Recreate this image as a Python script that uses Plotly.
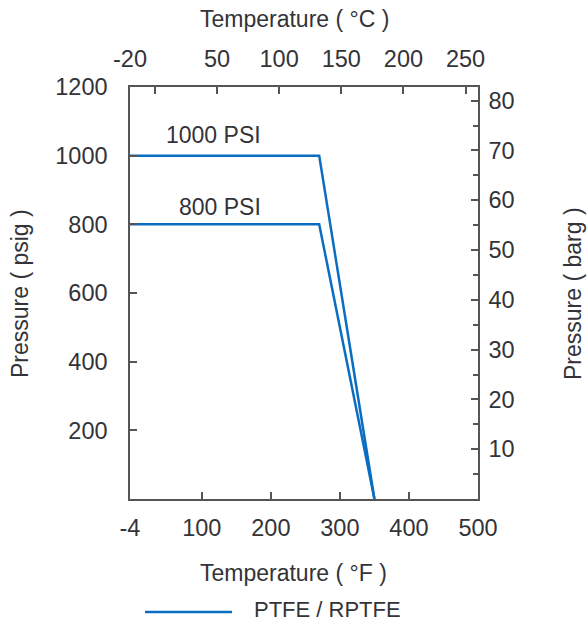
import plotly.graph_objects as go

# Data
temp_f_1000 = [-4, 270, 350]
psig_1000 = [1000, 1000, 0]
temp_f_800 = [-4, 270, 350]
psig_800 = [800, 800, 0]
series_name = "PTFE / RPTFE"
label_1000 = "1000 PSI"
label_800 = "800 PSI"

f_ticks = [-4, 100, 200, 300, 400, 500]
f_ticktext = ["-4", "100", "200", "300", "400", "500"]
c_ticks = [-20, 0, 50, 100, 150, 200, 250]
c_ticktext = ["-20", "", "50", "100", "150", "200", "250"]
psig_ticks = [200, 400, 600, 800, 1000, 1200]
barg_ticks = [10, 20, 30, 40, 50, 60, 70, 80]

PSI_PER_BAR = 14.5038
F_RANGE = [-4, 500]
C_RANGE = [(F_RANGE[0] - 32) / 1.8, (F_RANGE[1] - 32) / 1.8]
PSIG_RANGE = [0, 1200]
BARG_RANGE = [0, PSIG_RANGE[1] / PSI_PER_BAR]

# same series expressed in °C / barg for the secondary axes
temp_c_800 = [(f - 32) / 1.8 for f in temp_f_800]
barg_800 = [p / PSI_PER_BAR for p in psig_800]

BLUE = "#0a6dc2"
AXIS = "#555555"
TEXT = "#333338"
FONT = "Liberation Sans, Arial, sans-serif"

fig = go.Figure()
fig.add_trace(go.Scatter(x=temp_f_1000, y=psig_1000, mode="lines",
                         line=dict(color=BLUE, width=2.5), name=series_name,
                         showlegend=False, hoverinfo="skip"))
fig.add_trace(go.Scatter(x=temp_c_800, y=barg_800, mode="lines", xaxis="x2", yaxis="y2",
                         line=dict(color=BLUE, width=2.5), name=series_name,
                         showlegend=False, hoverinfo="skip"))

tick_font = dict(family=FONT, size=23.5, color=TEXT)
common = dict(showline=True, linecolor=AXIS, linewidth=1.5, ticks="inside",
              tickcolor=AXIS, tickwidth=1.5, ticklen=7, showgrid=False,
              zeroline=False, tickfont=tick_font)

fig.update_layout(
    width=587, height=623,
    margin=dict(l=130, r=109, t=87, b=124, autoexpand=False),
    paper_bgcolor="white", plot_bgcolor="white",
    showlegend=False,
    xaxis=dict(range=F_RANGE, tickvals=f_ticks, ticktext=f_ticktext,
               ticklabelstandoff=7, **common),
    xaxis2=dict(range=C_RANGE, tickvals=c_ticks, ticktext=c_ticktext,
                overlaying="x", side="top", anchor="y", ticklabelstandoff=9, **common),
    yaxis=dict(range=PSIG_RANGE, tickvals=psig_ticks, ticklabelstandoff=16, **common),
    yaxis2=dict(range=BARG_RANGE, tickvals=barg_ticks, overlaying="y", side="right",
                anchor="x", ticklabelstandoff=4,
                minor=dict(dtick=5, ticks="inside", ticklen=5, tickcolor=AXIS, tickwidth=1.5),
                **common),
)

ann_font = dict(family=FONT, size=23, color=TEXT)
fig.add_annotation(x=117, y=1060, xref="x", yref="y", text=label_1000,
                   showarrow=False, font=ann_font, xanchor="center", yanchor="middle")
fig.add_annotation(x=126, y=850, xref="x", yref="y", text=label_800,
                   showarrow=False, font=ann_font, xanchor="center", yanchor="middle")


def px_x(px):
    return (px - 130) / 348


def px_y(py):
    return (499 - py) / 412


def title(px, py, text, angle=0, xanchor="center", size=23):
    fig.add_annotation(x=px_x(px), y=px_y(py), xref="paper", yref="paper", text=text,
                       showarrow=False, textangle=angle,
                       font=dict(family=FONT, size=size, color=TEXT),
                       xanchor=xanchor, yanchor="middle")


title(294, 19, "Temperature ( °C )")
title(293, 573, "Temperature ( °F )")
title(20, 294, "Pressure ( psig )", angle=-90)
title(573, 294, "Pressure ( barg )", angle=-90)

# legend
fig.add_shape(type="line", xref="paper", yref="paper",
              x0=px_x(145), x1=px_x(232), y0=px_y(612), y1=px_y(612),
              line=dict(color=BLUE, width=2.5))
title(252, 609, series_name, xanchor="left", size=22)

# remove the default 8px page margin so the figure sits at the window origin
fig.write_html("out.html", config={"displayModeBar": False},
               post_script="document.body.style.margin='0';")
